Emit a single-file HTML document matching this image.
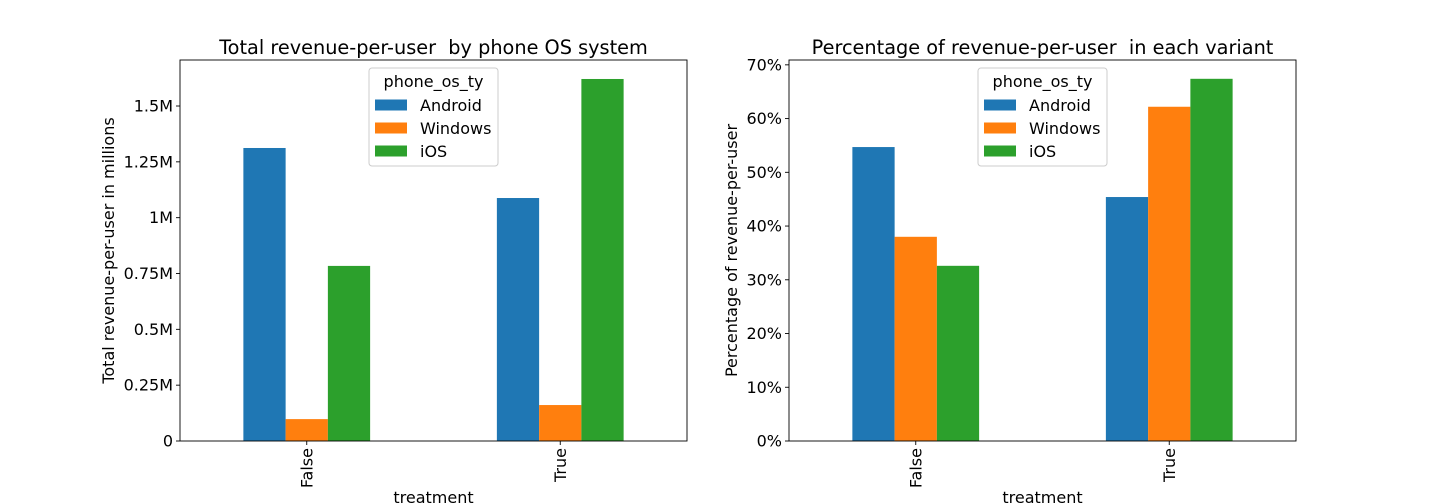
<!DOCTYPE html>
<html><head><meta charset="utf-8">
<style>
html,body{margin:0;padding:0;background:#fff;}
svg{display:block;font-family:"DejaVu Sans","Liberation Sans",sans-serif;}
text{white-space:pre;}
</style></head>
<body>
<svg id="chart" width="1440" height="504" viewBox="0 0 1440 504" xmlns="http://www.w3.org/2000/svg"></svg>
<script>
const categories = ["False", "True"];
const seriesNames = ["Android", "Windows", "iOS"];
const leftAndroid = [1.312, 1.088];
const leftWindows = [0.098, 0.161];
const leftIOS = [0.784, 1.621];
const leftTickValues = [0, 0.25, 0.5, 0.75, 1, 1.25, 1.5];
const leftTickLabels = ["0", "0.25M", "0.5M", "0.75M", "1M", "1.25M", "1.5M"];
const rightAndroid = [54.7, 45.4];
const rightWindows = [38.0, 62.2];
const rightIOS = [32.6, 67.4];
const rightTickValues = [0, 10, 20, 30, 40, 50, 60, 70];
const rightTickLabels = ["0%", "10%", "20%", "30%", "40%", "50%", "60%", "70%"];
const colors = ["#1f77b4", "#ff7f0e", "#2ca02c"];

const NS = "http://www.w3.org/2000/svg";
const svg = document.getElementById("chart");
const FS = 16;
function mk(tag, attrs, parent, text) {
  const e = document.createElementNS(NS, tag);
  for (const k in attrs) e.setAttribute(k, attrs[k]);
  if (text !== undefined) e.textContent = text;
  (parent || svg).appendChild(e);
  return e;
}

function drawPanel(opt) {
  const g = mk("g", {});
  
  
  const L = opt.x0, R = opt.x1, T = 60, B = 441;
  const yScale = v => B - v / opt.yMax * (B - T);
  const xScale = v => L + (v + 0.5) / 2 * (R - L);
  const bw = (0.5 / 3) / 2 * (R - L);
  opt.series.forEach((vals, si) => {
    vals.forEach((v, ci) => {
      const cx = xScale(ci) + (si - 1) * bw;
      const r = mk("rect", {x: cx - bw / 2, y: yScale(v), width: bw, height: B - yScale(v), fill: colors[si]}, g);
      
      
    });
  });
  const frame = mk("rect", {x: L, y: T, width: R - L, height: B - T, fill: "none", stroke: "#000", "stroke-width": 0.9}, g);
  
  
  opt.ticks.forEach((t, i) => {
    const y = yScale(t);
    mk("line", {x1: L - 4, x2: L, y1: y, y2: y, stroke: "#000", "stroke-width": 0.9}, g);
    const tx = mk("text", {x: L - 7, y: y + 5.5, "text-anchor": "end", "font-size": FS, fill: "#000"}, g, opt.tickLabels[i]);
    
    
  });
  categories.forEach((c, ci) => {
    const x = xScale(ci);
    mk("line", {x1: x, x2: x, y1: B, y2: B + 4, stroke: "#000", "stroke-width": 0.9}, g);
    const tx = mk("text", {x: 0, y: 0, "text-anchor": "end", "font-size": FS, fill: "#000", transform: `translate(${x + 5.5},${B + 7}) rotate(-90)`}, g, c);
    
    
  });
  const xt = mk("text", {x: (L + R) / 2, y: 503, "text-anchor": "middle", "font-size": FS, fill: "#000"}, g, "treatment");
  
  
  const yt = mk("text", {x: 0, y: 0, "text-anchor": "middle", "font-size": FS, fill: "#000", transform: `translate(${opt.yTitleX},${(T + B) / 2}) rotate(-90)`}, g, opt.yTitle);
  
  
  const tt = mk("text", {x: (L + R) / 2, y: 54, "text-anchor": "middle", "font-size": 19.3, fill: "#000"}, g, opt.title);
  
  
  const lg = mk("g", {}, g);
  
  
  const lx = opt.legendX;
  mk("rect", {x: lx, y: 68, width: 129, height: 98, rx: 3, fill: "#fff", "fill-opacity": 0.8, stroke: "#ccc", "stroke-width": 1}, lg);
  mk("text", {x: lx + 64.5, y: 87, "text-anchor": "middle", "font-size": FS, fill: "#000"}, lg, "phone_os_ty");
  seriesNames.forEach((n, i) => {
    const ey = 105 + i * 23;
    const it = mk("g", {}, lg);
    
    
    mk("rect", {x: lx + 6, y: ey - 5.5, width: 32, height: 11, fill: colors[i]}, it);
    mk("text", {x: lx + 51, y: ey + 6, "font-size": FS, fill: "#000"}, it, n);
  });
}

drawPanel({name: "left-chart", x0: 180, x1: 687, yMax: 1.706,
  series: [leftAndroid, leftWindows, leftIOS], ticks: leftTickValues, tickLabels: leftTickLabels,
  yTitle: "Total revenue-per-user in millions", yTitleX: 114, title: "Total revenue-per-user  by phone OS system", legendX: 369});
drawPanel({name: "right-chart", x0: 789, x1: 1296, yMax: 70.9,
  series: [rightAndroid, rightWindows, rightIOS], ticks: rightTickValues, tickLabels: rightTickLabels,
  yTitle: "Percentage of revenue-per-user", yTitleX: 737, title: "Percentage of revenue-per-user  in each variant", legendX: 978});
</script>
</body></html>
